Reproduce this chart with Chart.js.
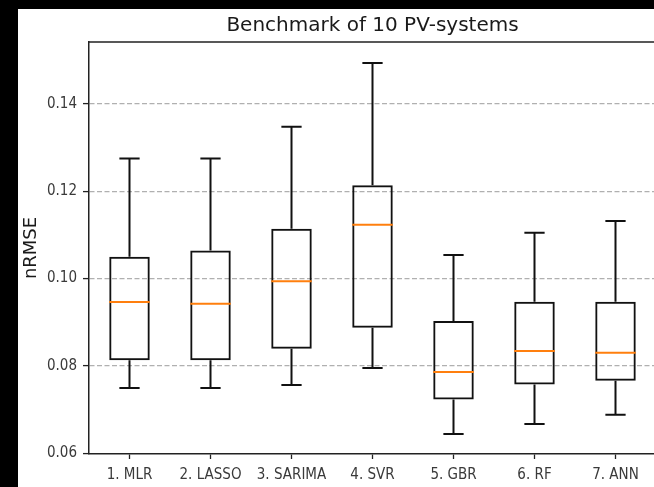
<!DOCTYPE html>
<html>
<head>
<meta charset="utf-8">
<script src="https://cdn.jsdelivr.net/npm/chart.js@4/dist/chart.umd.min.js"></script>
<style>
  html, body { margin: 0; padding: 0; background: #000; overflow: hidden; width: 654px; height: 487px; }
  #wrap { position: absolute; left: 18px; top: 9px; width: 642px; height: 478px; background: #fff; }
  canvas { display: block; }
</style>
</head>
<body>
<div id="wrap"><canvas id="chart" width="642" height="478"></canvas></div>
<script>
// models on the x axis
const models = ['1. MLR', '2. LASSO', '3. SARIMA', '4. SVR', '5. GBR', '6. RF', '7. ANN'];

// boxplot statistics (nRMSE)
const whiskerLow = [0.0749, 0.0749, 0.0756, 0.0795, 0.0644, 0.0667, 0.0688];
const q1 = [0.0813, 0.0813, 0.0839, 0.0887, 0.0723, 0.0757, 0.0766];
const median = [0.0946, 0.0942, 0.0994, 0.1123, 0.0786, 0.0834, 0.0830];
const q3 = [0.1050, 0.1064, 0.1114, 0.1214, 0.0903, 0.0947, 0.0947];
const whiskerHigh = [0.1275, 0.1275, 0.1348, 0.1494, 0.1054, 0.1105, 0.1132];

const yTicks = [0.06, 0.08, 0.10, 0.12, 0.14];
const yMin = 0.0598;
const yMax = 0.1542;

const TITLE = 'Benchmark of 10 PV-systems';
const Y_LABEL = 'nRMSE';

const tickFont = { family: 'DejaVu Sans Condensed', size: 15 };

/**
 * Whiskers, caps and medians drawn on top of the floating bars
 */
const boxExtras = {
  id: 'boxExtras',
  afterDatasetsDraw(chart) {
    const { ctx, scales: { x, y } } = chart;
    const step = x.width / models.length;
    const capHalf = step * 0.125;
    const boxHalf = step * 0.25;

    ctx.save();
    ctx.lineWidth = 2;
    ctx.strokeStyle = '#111';
    models.forEach((m, i) => {
      const cx = x.getPixelForValue(i);
      const lo = y.getPixelForValue(whiskerLow[i]);
      const hi = y.getPixelForValue(whiskerHigh[i]);
      const b = y.getPixelForValue(q1[i]);
      const t = y.getPixelForValue(q3[i]);
      ctx.beginPath();
      ctx.moveTo(cx, b); ctx.lineTo(cx, lo);
      ctx.moveTo(cx, t); ctx.lineTo(cx, hi);
      ctx.moveTo(cx - capHalf, lo); ctx.lineTo(cx + capHalf, lo);
      ctx.moveTo(cx - capHalf, hi); ctx.lineTo(cx + capHalf, hi);
      ctx.stroke();
    });

    ctx.strokeStyle = '#ff7f0e';
    ctx.lineWidth = 2;
    models.forEach((m, i) => {
      const cx = x.getPixelForValue(i);
      const my = y.getPixelForValue(median[i]);
      ctx.beginPath();
      ctx.moveTo(cx - boxHalf, my); ctx.lineTo(cx + boxHalf, my);
      ctx.stroke();
    });
    ctx.restore();
  },
  afterDraw(chart) {
    const { ctx, chartArea: a } = chart;
    ctx.save();
    // top and right spines
    ctx.strokeStyle = '#222';
    ctx.lineWidth = 1.5;
    ctx.beginPath();
    ctx.moveTo(a.left, a.top); ctx.lineTo(a.right, a.top); ctx.lineTo(a.right, a.bottom);
    ctx.stroke();

    // title
    ctx.fillStyle = '#1a1a1a';
    ctx.font = '20px "DejaVu Sans"';
    ctx.textAlign = 'center';
    ctx.textBaseline = 'alphabetic';
    ctx.fillText(TITLE, (a.left + a.right) / 2, 22);

    // y label
    ctx.translate(13, (a.top + a.bottom) / 2);
    ctx.rotate(-Math.PI / 2);
    ctx.font = '18px "DejaVu Sans"';
    ctx.textBaseline = 'middle';
    ctx.fillText(Y_LABEL, 0, 0);
    ctx.restore();
  }
};

new Chart(document.getElementById('chart'), {
  type: 'bar',
  data: {
    labels: models,
    datasets: [{
      data: models.map((m, i) => [q1[i], q3[i]]),
      backgroundColor: 'rgba(0,0,0,0)',
      borderColor: '#111',
      borderWidth: 2,
      borderSkipped: false,
      categoryPercentage: 1,
      barPercentage: 0.5
    }]
  },
  options: {
    responsive: false,
    animation: false,
    layout: { padding: { top: 33, right: 4, left: 0, bottom: 0 } },
    plugins: {
      legend: { display: false },
      tooltip: { enabled: false },
      title: { display: false }
    },
    scales: {
      x: {
        offset: true,
        grid: { display: true, offset: false, drawOnChartArea: false, tickLength: 5, tickColor: '#222', tickWidth: 1.3 },
        border: { color: '#222', width: 1.5 },
        ticks: { font: tickFont, color: '#3a3a3a', padding: 7, maxRotation: 0, autoSkip: false },
        afterFit: s => { s.height = 33; }
      },
      y: {
        min: yMin,
        max: yMax,
        afterBuildTicks: s => { s.ticks = yTicks.map(v => ({ value: v })); },
        grid: {
          color: c => (c.tick && c.tick.value > 0.065 ? '#b0b0b0' : 'rgba(0,0,0,0)'),
          lineWidth: 1.2,
          tickLength: 6,
          tickColor: '#222',
          tickWidth: 1.3,
          tickBorderDash: []
        },
        border: { color: '#222', width: 1.5, dash: [5, 2.5] },
        ticks: { font: tickFont, color: '#3a3a3a', padding: 6, callback: v => v.toFixed(2) },
        afterFit: s => { s.width = 71; }
      }
    }
  },
  plugins: [boxExtras]
});
</script>
</body>
</html>
